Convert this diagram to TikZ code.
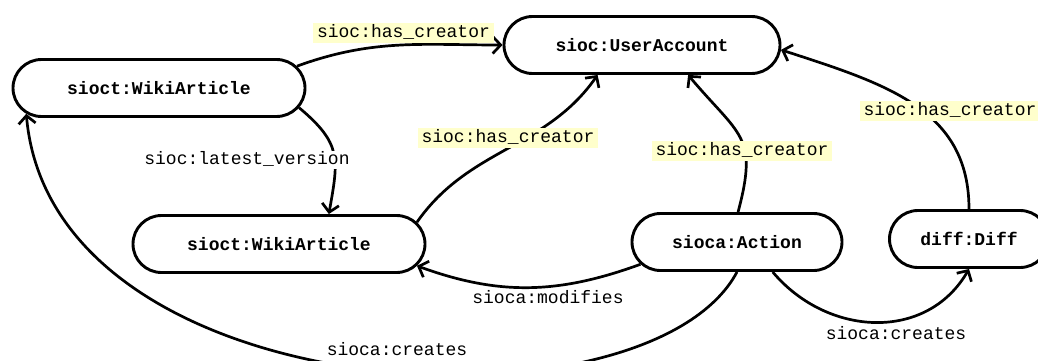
\documentclass[tikz,border=0pt]{standalone}
\usepackage{fontspec}
\setmonofont{Liberation Mono}
\usetikzlibrary{shapes.misc,arrows.meta}
\definecolor{hl}{RGB}{255,255,204}
\begin{document}
\begin{tikzpicture}[x=1pt,y=1pt,
  cls/.style={rounded rectangle, draw, line width=2.9pt, minimum height=57pt, inner sep=0pt,
    font=\ttfamily\bfseries\fontsize{18}{20}\selectfont},
  rel/.style={line width=2.7pt, -{Straight Barb[length=8pt,width=17pt]}},
  hlab/.style={fill=hl, inner xsep=4pt, inner ysep=2pt, text height=12.5pt, text depth=3.5pt,
    font=\ttfamily\fontsize{18}{20}\selectfont},
  plab/.style={inner sep=1pt, text height=12.5pt, text depth=3.5pt,
    font=\ttfamily\fontsize{18}{20}\selectfont}]
\useasboundingbox (0,0) rectangle (1038,360);
\clip (0,0) rectangle (1038,360);

% classes
\node[cls, minimum width=276pt] (ua) at (642,315) {sioc:UserAccount};
\node[cls, minimum width=292pt] (wa1) at (159,272) {sioct:WikiArticle};
\node[cls, minimum width=292pt] (wa2) at (279,116) {sioct:WikiArticle};
\node[cls, minimum width=210pt] (act) at (737,118) {sioca:Action};
\node[cls, minimum width=159pt] (diff) at (969,121) {diff:Diff};

% relations
\draw[rel] (wa1.9) to[out=20,in=180] (ua.west);
\draw[rel] (wa1.-8.5) to[out=-40,in=80,looseness=1.3] (wa2.31.5);
\draw[rel] (wa2.9) to[out=55,in=235] (ua.214);
\draw[rel] (act.88) to[out=75,in=-50,looseness=1.4] (ua.-33);
\draw[rel] (diff.north) to[out=90,in=-18,out distance=100pt,in distance=110pt] (ua.-2);
\draw[rel] (act.193) to[out=200,in=-20] (wa2.-9);
\draw[rel] (act.-40) to[out=-50,in=240,looseness=1.1] (diff.south);
\draw[rel] (act.south) to[out=242,in=-85,out distance=190pt,in distance=300pt] (wa1.191);

% labels
\node[hlab] (l1) at (403.5,327) {sioc:has\_creator};
\node[plab, fill=white] (l2) at (247,200) {sioc:latest\_version};
\node[hlab] (l3) at (508,222) {sioc:has\_creator};
\node[hlab] (l4) at (742,209) {sioc:has\_creator};
\node[hlab] (l5) at (950,249.5) {sioc:has\_creator};
\node[plab] (l6) at (548,61) {sioca:modifies};
\node[plab] (l7) at (896,25) {sioca:creates};
\node[plab] (l8) at (397,9) {sioca:creates};
\end{tikzpicture}
\end{document}
